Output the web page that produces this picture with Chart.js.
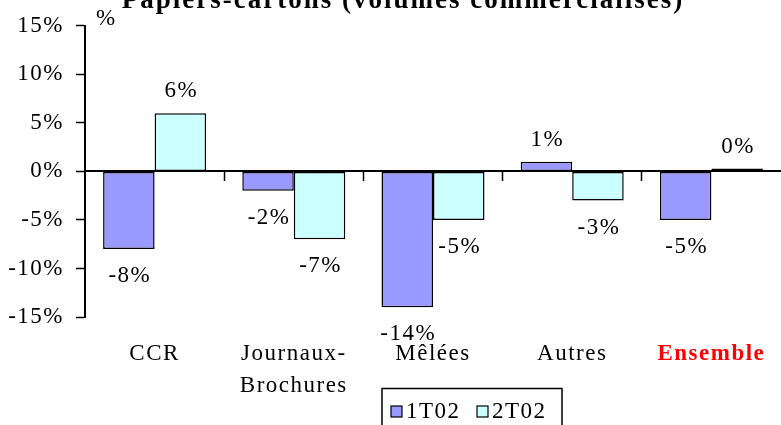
<!DOCTYPE html>
<html>
<head>
<meta charset="utf-8">
<script src="https://cdn.jsdelivr.net/npm/chart.js@4/dist/chart.umd.min.js"></script>
<style>
  html, body { margin: 0; padding: 0; background: #fff; }
  #wrap { width: 781px; height: 425px; position: relative; }
</style>
</head>
<body>
<div id="wrap"><canvas id="myChart"></canvas></div>
<script>
// donnees
var categories = ['CCR', ['Journaux-', 'Brochures'], 'Mêlées', 'Autres', 'Ensemble'];
var serie1T02 = [-8, -2, -14, 1, -5];
var serie2T02 = [6, -7, -5, -3, 0.3];
var seriesNames = ['1T02', '2T02'];
var yTicks = [-15, -10, -5, 0, 5, 10, 15];

var titre = 'Papiers-cartons (volumes commercialisés)';
var police = "'Liberation Serif', 'Times New Roman', serif";
var taille = 23;
var ecart = '1.5px';

// le texte d'origine est un peu espace entre les lettres
var espacement = {
    id: 'espacement',
    beforeLayout: function(chart) { chart.ctx.letterSpacing = ecart; },
    beforeDraw: function(chart) { chart.ctx.letterSpacing = ecart; }
};

// etiquettes de valeur au-dessus / en dessous des barres
var valueLabels = {
    id: 'valueLabels',
    afterDatasetsDraw: function(chart) {
        var ctx = chart.ctx;
        ctx.save();
        ctx.letterSpacing = ecart;
        ctx.font = taille + 'px ' + police;
        ctx.fillStyle = '#000';
        ctx.textAlign = 'center';
        ctx.textBaseline = 'middle';
        chart.data.datasets.forEach(function(ds, i) {
            var meta = chart.getDatasetMeta(i);
            meta.data.forEach(function(bar, j) {
                var v = ds.data[j];
                var y = v >= 0 ? bar.y - 22 : bar.y + 27;
                ctx.fillText(Math.round(v) + '%', bar.x + 1, y);
            });
        });
        ctx.restore();
    }
};

// titre, unite et legende encadree
var decor = {
    id: 'decor',
    afterDraw: function(chart) {
        var ctx = chart.ctx;
        ctx.save();
        ctx.letterSpacing = '2px';
        ctx.fillStyle = '#000';
        ctx.font = 'bold 27px ' + police;
        ctx.textAlign = 'center';
        ctx.textBaseline = 'alphabetic';
        ctx.fillText(titre, 403, 8);

        ctx.letterSpacing = ecart;
        ctx.font = taille + 'px ' + police;
        ctx.textAlign = 'left';
        ctx.textBaseline = 'middle';
        ctx.fillText('%', 96, 19);

        // legende
        ctx.lineWidth = 1.5;
        ctx.strokeStyle = '#000';
        ctx.strokeRect(382, 388.5, 180, 50);
        var x = 391;
        chart.data.datasets.forEach(function(ds) {
            ctx.fillStyle = ds.backgroundColor;
            ctx.fillRect(x, 406, 11, 11);
            ctx.lineWidth = 1.2;
            ctx.strokeRect(x, 406, 11, 11);
            ctx.fillStyle = '#000';
            ctx.fillText(ds.label, x + 15, 412);
            x += 86;
        });
        ctx.restore();
    }
};

var ctx = document.getElementById('myChart').getContext('2d');
var myChart = new Chart(ctx, {
    type: 'bar',
    data: {
        labels: categories,
        datasets: [{
            label: seriesNames[0],
            data: serie1T02,
            backgroundColor: '#9999FF',
            borderColor: '#000',
            borderWidth: 1.5,
            borderSkipped: false
        }, {
            label: seriesNames[1],
            data: serie2T02,
            backgroundColor: '#CCFFFF',
            borderColor: '#000',
            borderWidth: 1.5,
            borderSkipped: false
        }]
    },
    options: {
        responsive: true,
        maintainAspectRatio: false,
        animation: false,
        layout: { padding: { top: 22, left: 0, right: 0, bottom: 0 } },
        datasets: { bar: { categoryPercentage: 0.74, barPercentage: 1 } },
        plugins: {
            legend: { display: false },
            title: { display: false },
            tooltip: { enabled: false }
        },
        scales: {
            x: {
                type: 'category',
                offset: true,
                grid: { display: false, drawTicks: false },
                border: { display: false },
                ticks: {
                    padding: 21,
                    maxRotation: 0,
                    autoSkip: false,
                    color: function(c) { return c.index === 4 ? '#FF0000' : '#000'; },
                    font: function(c) {
                        return { family: police, size: taille, lineHeight: 1.4, weight: c.index === 4 ? 'bold' : 'normal' };
                    }
                },
                afterFit: function(s) {
                    s.height = 108;
                    s.paddingLeft = 0;
                    s.paddingRight = 0;
                }
            },
            x2: {
                type: 'category',
                labels: categories,
                position: { y: 0 },
                offset: true,
                grid: {
                    offset: true,
                    drawOnChartArea: false,
                    drawTicks: true,
                    tickLength: 9,
                    tickWidth: 1.5,
                    tickColor: function(c) {
                        return (c.index === 0 || c.tick === undefined) ? 'rgba(0,0,0,0)' : '#000';
                    }
                },
                border: { display: true, color: '#000', width: 2 },
                ticks: { display: false }
            },
            y: {
                min: -15,
                max: 15,
                afterBuildTicks: function(s) {
                    s.ticks = yTicks.map(function(v) { return { value: v }; });
                },
                grid: {
                    drawOnChartArea: false,
                    drawTicks: true,
                    tickLength: 9,
                    tickWidth: 1.5,
                    tickColor: '#000'
                },
                border: { display: true, color: '#000', width: 2 },
                ticks: {
                    padding: 12,
                    color: '#000',
                    font: { family: police, size: taille },
                    callback: function(v) { return v + '%'; }
                },
                afterFit: function(s) { s.width = 85; }
            }
        }
    },
    plugins: [espacement, valueLabels, decor]
});
</script>
</body>
</html>
